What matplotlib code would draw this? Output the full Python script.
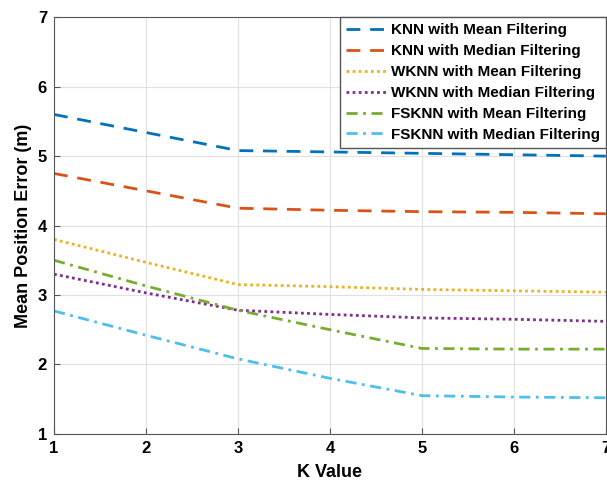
import numpy as np
import matplotlib.pyplot as plt

# K values and mean position error (m) for each method
k_values = [1, 2, 3, 4, 5, 6, 7]
knn_mean = [5.60, 5.34, 5.08, 5.06, 5.04, 5.02, 5.00]
knn_median = [4.75, 4.50, 4.25, 4.22, 4.20, 4.19, 4.17]
wknn_mean = [3.80, 3.47, 3.15, 3.12, 3.08, 3.06, 3.04]
wknn_median = [3.30, 3.03, 2.78, 2.72, 2.67, 2.65, 2.62]
fsknn_mean = [3.50, 3.13, 2.78, 2.50, 2.23, 2.22, 2.22]
fsknn_median = [2.77, 2.42, 2.08, 1.80, 1.55, 1.53, 1.52]

labels = ['KNN with Mean Filtering', 'KNN with Median Filtering',
          'WKNN with Mean Filtering', 'WKNN with Median Filtering',
          'FSKNN with Mean Filtering', 'FSKNN with Median Filtering']

plt.rcParams['font.family'] = ['Liberation Sans', 'DejaVu Sans']
plt.rcParams['font.weight'] = 'bold'

fig = plt.figure(figsize=(6.07, 4.93), dpi=100)
ax = fig.add_axes([0.089, 0.12, 0.909, 0.845])

series = [knn_mean, knn_median, wknn_mean, wknn_median, fsknn_mean, fsknn_median]
colors = ['#0072BD', '#D95319', '#EDB120', '#7E2F8E', '#77AC30', '#4DBEEE']
dash_styles = [(0, (5, 3.5)), (0, (5, 3.5)), (0, (1, 1.2)), (0, (1, 1.2)),
               (0, (4, 2, 1, 2)), (0, (4, 2, 1, 2))]

for y, c, ls, lab in zip(series, colors, dash_styles, labels):
    ax.plot(k_values, y, color=c, linestyle=ls, linewidth=2, label=lab)

ax.set_xlim(1, 7)
ax.set_ylim(1, 7)
ax.set_xticks(range(1, 8))
ax.set_yticks(range(1, 8))
ax.grid(True, color='#e0e0e0', linewidth=0.8)
ax.tick_params(direction='in', labelsize=12, length=4, color='#555555', pad=5)
for s in ax.spines.values():
    s.set_color('#555555')
ax.set_xlabel('K Value', fontsize=13, fontweight='bold', labelpad=6)
ax.set_ylabel('Mean Position Error (m)', fontsize=13, fontweight='bold')

leg = ax.legend(loc='upper right', fontsize=11, handlelength=2.6,
                borderaxespad=0, fancybox=False, framealpha=1,
                edgecolor='#555555', labelspacing=0.45, handletextpad=0.3,
                borderpad=0.4)

fig.savefig('out.png', dpi=100)
